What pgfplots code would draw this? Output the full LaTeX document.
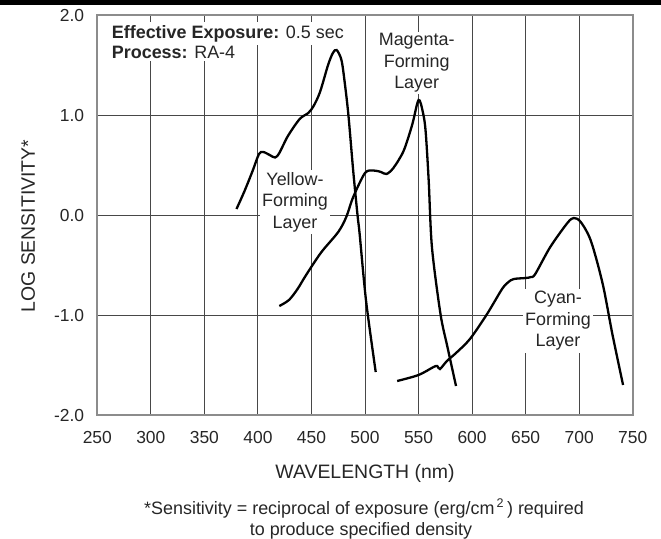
\documentclass[border=0pt]{standalone}
\usepackage{fontspec}
\setmainfont{Liberation Sans}
\usepackage{pgfplots}
\pgfplotsset{compat=1.18}
\newcommand{\tk}{\fontsize{17.5}{20}\selectfont}
\newcommand{\lb}{\fontsize{18}{21.5}\selectfont}
\newcommand{\al}{\fontsize{19.5}{22}\selectfont}
\begin{document}
\begin{tikzpicture}
\useasboundingbox (0,0) rectangle (661bp,-539bp);
\fill[black] (0,0) rectangle (661bp,-4.5bp);
\begin{axis}[
  at={(97.3bp,-415bp)}, anchor=south west,
  scale only axis, width=535.4bp, height=400bp,
  xmin=250, xmax=750, ymin=-2, ymax=2,
  xtick={250,300,350,400,450,500,550,600,650,700,750},
  xticklabels={250,300,350,400,450,500,550,600,650,700,750},
  ytick={-2,-1,0,1,2},
  yticklabels={-2.0,-1.0,0.0,1.0,2.0},
  grid=major,
  major grid style={line width=1bp, color=black!72},
  axis line style={line width=2bp, color=black!45},
  major tick length=0pt,
  tick label style={font=\tk, text=black!85},
  xticklabel style={yshift=-13bp},
  yticklabel style={xshift=-9.6bp},
  every axis x label/.style={at={(axis description cs:0.5,0)}, anchor=base, yshift=-63bp, font=\al, text=black!85},
  every axis y label/.style={at={(axis description cs:-0.1164,0.4725)}, rotate=90, anchor=base, font=\al, text=black!85},
  xlabel={WAVELENGTH (nm)},
  ylabel={LOG SENSITIVITY*},
  clip=false,
]
% Yellow-forming layer
\addplot[black, line width=2.3bp, smooth] coordinates {
(380,0.06) (387.5,0.24) (395,0.44) (401,0.61) (405,0.63) (411,0.60) (416,0.575) (420,0.62) (428,0.79) (439,0.96) (447,1.02) (452,1.09) (458,1.23) (465.5,1.50) (470,1.62) (473.5,1.65) (478,1.55) (481,1.33) (484.5,1.0) (489,0.44) (493,0.0) (495,-0.19) (501,-0.86) (510,-1.57)
};
% Magenta-forming layer
\addplot[black, line width=2.3bp, smooth] coordinates {
(420,-0.91) (429,-0.85) (437,-0.74) (445,-0.60) (459,-0.375) (475,-0.17) (482.5,-0.02) (489,0.18) (500,0.42) (508,0.445) (515,0.43) (520,0.41) (526.5,0.47) (536,0.64) (544,0.90) (550,1.15) (554,1.03) (556.6,0.84) (559.5,0.34) (562.5,-0.32) (570.5,-0.99) (577,-1.32) (585,-1.71)
};
% Cyan-forming layer
\addplot[black, line width=2.3bp, smooth] coordinates {
(530,-1.66) (550,-1.60) (564,-1.52) (567.5,-1.51) (570,-1.54) (576.5,-1.46) (585,-1.38) (598,-1.24) (614,-0.99) (628,-0.74) (634,-0.67) (639,-0.64) (650,-0.63) (655,-0.62) (659,-0.59) (673,-0.32) (689,-0.08) (695,-0.03) (701.5,-0.07) (711,-0.26) (722,-0.69) (731,-1.19) (741,-1.70)
};
\end{axis}
% annotations
\node[fill=white, inner sep=3bp, anchor=base west, font=\lb, text=black!85] at (108.7bp,-38bp) {\textbf{Effective Exposure:} 0.5 sec};
\node[fill=white, inner sep=3bp, anchor=base west, font=\lb, text=black!85] at (108.7bp,-58.3bp) {\textbf{Process:} RA-4};
\node[fill=white, inner sep=2bp, align=center, font=\lb, text=black!85] at (416.7bp,-63bp) {Magenta-\\Forming\\Layer};
\node[fill=white, inner sep=2bp, align=center, font=\lb, text=black!85] at (295bp,-202bp) {Yellow-\\Forming\\Layer};
\node[fill=white, inner sep=2bp, align=center, font=\lb, text=black!85] at (558bp,-321bp) {Cyan-\\Forming\\Layer};
% footnote
\node[anchor=base, font=\lb, text=black!85] at (364bp,-514bp) {*Sensitivity = reciprocal of exposure (erg/cm\textsuperscript{\,2}\,) required};
\node[anchor=base, font=\lb, text=black!85] at (361bp,-535bp) {to produce specified density};
\end{tikzpicture}
\end{document}
